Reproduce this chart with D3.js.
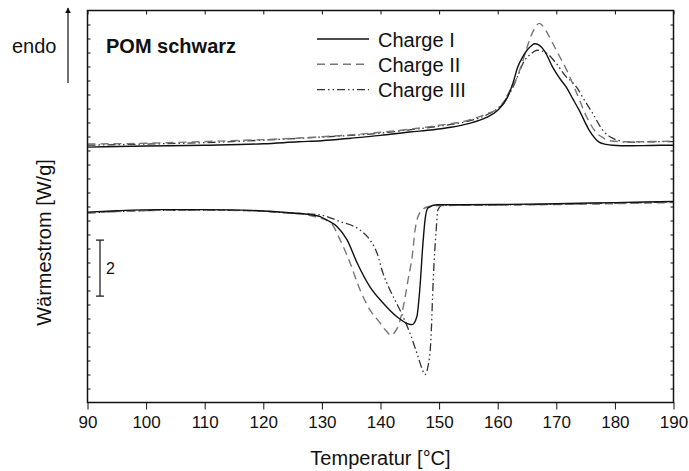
<!DOCTYPE html>
<html>
<head>
<meta charset="utf-8">
<script src="https://cdn.jsdelivr.net/npm/d3@7/dist/d3.min.js"></script>
<style>
  html, body { margin: 0; padding: 0; background: #fff; }
  svg { display: block; font-family: "Liberation Sans", Arial, Helvetica, sans-serif; }
</style>
</head>
<body>
<svg id="chart" width="689" height="471"></svg>
<script>
// DSC curves of black POM, three batches: heating (upper) and cooling (lower) runs
const xTicks = [90, 100, 110, 120, 130, 140, 150, 160, 170, 180, 190];
const seriesNames = ["Charge I", "Charge II", "Charge III"];

// Charge I
const heatT_I = [90,100,110,120,126,130,135,140,145,149,152,155,158,160,161.6,162.6,163.4,164.3,165,165.8,166.3,167,168,169.4,170.5,171.7,172.8,173.9,175.6,177.3,178.5,179.6,182.5,186,190];
const heatW_I = [9.12,9.16,9.19,9.24,9.31,9.35,9.44,9.54,9.66,9.74,9.83,9.96,10.17,10.44,10.87,11.4,11.97,12.35,12.58,12.75,12.81,12.77,12.55,11.97,11.6,11.26,10.85,10.44,9.73,9.3,9.22,9.19,9.17,9.18,9.19];
const coolT_I = [90,95,102,110,118,125,128,129.7,131,132.6,134.3,136,138.2,140.4,142.8,144.7,145.4,146.2,146.7,147.2,147.6,148.1,149.6,152,160,170,180,190];
const coolW_I = [6.80,6.85,6.89,6.89,6.86,6.77,6.71,6.64,6.5,6.28,5.81,4.99,4.13,3.56,3.06,2.81,2.78,3.06,4.03,5.56,6.52,6.95,7.06,7.06,7.07,7.1,7.14,7.18];

// Charge II
const heatT_II = [90,100,110,120,130,140,145,150,155,158,160.4,162.1,163.3,164.2,165,165.7,166.3,167.1,167.8,168.5,170,171.8,173.5,175.2,176.9,178,179.1,182,186,190];
const heatW_II = [9.23,9.26,9.32,9.39,9.49,9.65,9.76,9.9,10.08,10.3,10.55,11.15,11.61,12.15,12.68,13.1,13.36,13.54,13.42,13.18,12.58,11.86,11.04,10.19,9.62,9.45,9.35,9.31,9.32,9.33];
const coolT_II = [90,95,102,110,118,125,128,129.5,131.4,133.1,134.8,136.5,138.2,139.9,141,141.8,142.4,143,143.9,144.7,145.4,145.9,146.7,148.1,150,160,170,180,190];
const coolW_II = [6.77,6.82,6.86,6.87,6.85,6.75,6.68,6.6,6.45,5.81,4.99,4.03,3.31,2.85,2.55,2.40,2.50,2.72,3.43,4.38,5.21,6.16,6.77,6.99,7.03,7.05,7.07,7.10,7.14];

// Charge III
const heatT_III = [90,100,110,120,130,140,145,150,155,158,160.4,161.6,162.6,163.5,164.3,165.8,166.7,167.6,168.4,170,171.8,172.6,173.6,174.5,176.2,177.9,179.6,181,182,186,190];
const heatW_III = [9.19,9.23,9.28,9.37,9.48,9.62,9.74,9.87,10.05,10.26,10.58,10.9,11.26,11.7,12.11,12.47,12.58,12.55,12.47,12.11,11.61,11.47,11.22,10.9,10.33,9.73,9.44,9.34,9.30,9.31,9.32];
const coolT_III = [90,95,102,110,118,125,129.7,133.1,136.5,138.2,139.4,140.4,141.6,143.3,145,146.4,147.1,147.6,148.1,148.6,149,149.5,149.8,150.6,155,160,170,180,190];
const coolW_III = [6.77,6.82,6.86,6.87,6.85,6.76,6.70,6.46,6.16,5.81,5.34,4.63,4.03,3.31,2.49,1.64,1.2,1.0,1.28,2.24,4.38,6.16,6.88,7.05,7.06,7.06,7.08,7.12,7.16];

// scale bar: 2 W/g
const scaleBarW = [3.8, 5.8];
const scaleBarLabel = "2";

const styles = [
  { color: "#111", dash: null, width: 1.4 },
  { color: "#777", dash: "8,5", width: 1.4 },
  { color: "#333", dash: "8,3,1.5,3,1.5,3", width: 1.3 }
];

const curves = [
  [heatT_I, heatW_I, 0], [coolT_I, coolW_I, 0],
  [heatT_II, heatW_II, 1], [coolT_II, coolW_II, 1],
  [heatT_III, heatW_III, 2], [coolT_III, coolW_III, 2]
];

const svg = d3.select("#chart");
const plotLeft = 87.5, plotRight = 673.5, plotTop = 10.5, plotBottom = 402.5;

const x = d3.scaleLinear().domain([90, 190]).range([plotLeft, plotRight]);
const y = d3.scaleLinear().domain([0, 14]).range([plotBottom, plotTop]);

const line = d3.line()
  .x(d => x(d[0]))
  .y(d => y(d[1]))
  .curve(d3.curveMonotoneX);

// curves, drawn back to front
[2, 1, 0].forEach(si => {
  curves.filter(c => c[2] === si).forEach(c => {
    const pts = c[0].map((t, i) => [t, c[1][i]]);
    svg.append("path")
      .datum(pts)
      .attr("d", line)
      .attr("fill", "none")
      .attr("stroke", styles[si].color)
      .attr("stroke-width", styles[si].width)
      .attr("stroke-dasharray", styles[si].dash)
      .attr("stroke-linejoin", "round");
  });
});

// axes
const yTicks = d3.range(0.5, 14, 0.5);
const styleAxis = g => {
  g.select(".domain").remove();
  g.selectAll(".tick line").attr("stroke", "#111").attr("stroke-width", 1);
};

svg.append("g")
  .attr("transform", `translate(0,${plotBottom})`)
  .call(d3.axisBottom(x).tickValues(xTicks).tickSize(7).tickPadding(6).tickFormat(d3.format("d")))
  .call(styleAxis)
  .call(g => g.selectAll("text")
    .attr("font-size", 17).attr("fill", "#111")
    .attr("font-family", "'Liberation Sans', Arial, sans-serif"));

svg.append("g")
  .attr("transform", `translate(0,${plotTop})`)
  .call(d3.axisTop(x).tickValues(xTicks).tickSize(-4).tickFormat(""))
  .call(styleAxis);

svg.append("g")
  .attr("transform", `translate(${plotLeft},0)`)
  .call(d3.axisLeft(y).tickValues(yTicks).tickSize(-3).tickFormat(""))
  .call(styleAxis);

svg.append("g")
  .attr("transform", `translate(${plotRight},0)`)
  .call(d3.axisRight(y).tickValues(yTicks).tickSize(-3).tickFormat(""))
  .call(styleAxis);

// frame
svg.append("rect")
  .attr("x", plotLeft).attr("y", plotTop)
  .attr("width", plotRight - plotLeft).attr("height", plotBottom - plotTop)
  .attr("fill", "none").attr("stroke", "#111").attr("stroke-width", 1.5);

// axis titles
svg.append("text")
  .attr("x", (plotLeft + plotRight) / 2).attr("y", 465)
  .attr("text-anchor", "middle")
  .attr("font-size", 20).attr("fill", "#111")
  .text("Temperatur [°C]");

svg.append("text")
  .attr("transform", `translate(51,${(plotTop + plotBottom) / 2 + 36}) rotate(-90)`)
  .attr("text-anchor", "middle")
  .attr("font-size", 20).attr("fill", "#111")
  .text("Wärmestrom [W/g]");

// endo arrow
svg.append("defs").append("marker")
  .attr("id", "arrowhead")
  .attr("viewBox", "0 0 10 10")
  .attr("refX", 9).attr("refY", 5)
  .attr("markerWidth", 6).attr("markerHeight", 8)
  .attr("markerUnits", "userSpaceOnUse")
  .attr("orient", "auto")
  .append("path").attr("d", "M0,0 L10,5 L0,10 z").attr("fill", "#111");

svg.append("line")
  .attr("x1", 68).attr("x2", 68)
  .attr("y1", 83).attr("y2", 8)
  .attr("stroke", "#111").attr("stroke-width", 1.2)
  .attr("marker-end", "url(#arrowhead)");

svg.append("text")
  .attr("x", 12).attr("y", 53)
  .attr("font-size", 20).attr("fill", "#111")
  .text("endo");

svg.append("text")
  .attr("x", 106).attr("y", 53)
  .attr("font-size", 20).attr("font-weight", "bold").attr("fill", "#111")
  .text("POM schwarz");

// legend
const legend = svg.append("g");
seriesNames.forEach((name, i) => {
  const ly = 39 + i * 25.3;
  legend.append("line")
    .attr("x1", 317).attr("x2", 369)
    .attr("y1", ly).attr("y2", ly)
    .attr("stroke", styles[i].color)
    .attr("stroke-width", styles[i].width)
    .attr("stroke-dasharray", styles[i].dash);
  legend.append("text")
    .attr("x", 378).attr("y", ly + 7.5)
    .attr("font-size", 20).attr("fill", "#111")
    .text(name);
});

// scale bar
const sbX = 100;
const sb = svg.append("g").attr("stroke", "#111").attr("stroke-width", 1.2);
sb.append("line").attr("x1", sbX).attr("x2", sbX)
  .attr("y1", y(scaleBarW[0])).attr("y2", y(scaleBarW[1]));
scaleBarW.forEach(v => {
  sb.append("line").attr("x1", sbX - 4).attr("x2", sbX + 4)
    .attr("y1", y(v)).attr("y2", y(v));
});
svg.append("text")
  .attr("x", 106).attr("y", (y(scaleBarW[0]) + y(scaleBarW[1])) / 2 + 6)
  .attr("font-size", 16).attr("fill", "#111")
  .text(scaleBarLabel);
</script>
</body>
</html>
